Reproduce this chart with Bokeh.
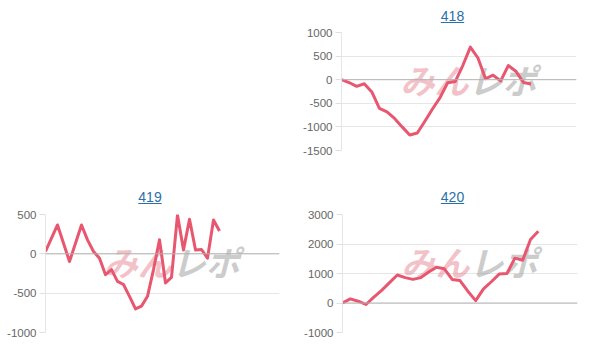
from bokeh.plotting import figure
from bokeh.models import Range1d, FixedTicker, Span, Label, Div, Spacer
from bokeh.layouts import column, row
from bokeh.embed import file_html
from bokeh.resources import INLINE

# ---------------- data ----------------
titles = ["418", "419", "420"]

slots_418 = 32
values_418 = [0, -60, -140, -86, -260, -607, -680, -820, -1000, -1170, -1128, -880,
              -620, -380, -65, -40, 300, 690, 460, 20, 95, -25, 300, 180, -60, -90]
ticks_418 = [-1500, -1000, -500, 0, 500, 1000]

slots_419 = 40
values_419 = [30, 200, 367, 135, -97, 135, 367, 177, 30, -55, -265, -200, -350, -390,
              -540, -700, -665, -540, -200, 180, -370, -300, 494, 50, 440, 50, 55, -55,
              430, 290]
ticks_419 = [-1000, -500, 0, 500]

slots_420 = 31
values_420 = [0, 140, 60, -50, 200, 430, 690, 950, 860, 800, 860, 1050, 1210, 1160,
              800, 760, 400, 80, 480, 720, 980, 1000, 1520, 1450, 2150, 2430]
ticks_420 = [-1000, 0, 1000, 2000, 3000]

LINE = "#e8566f"
FONT = "Liberation Sans"


def title_div(text, width, height, pad_top, pad_left=0):
    html = ('<div style="width:%dpx;text-align:center;font-family:\'Liberation Sans\',Arial;'
            'font-size:14px;line-height:18px;padding-top:%dpx;padding-left:%dpx;">'
            '<span style="color:#2a6fa8;text-decoration:underline;">%s</span></div>'
            % (width - pad_left, pad_top, pad_left, text))
    return Div(text=html, width=width, height=height, margin=0)


def panel(values, slots, ticks, width, height, bl, br, bt, bb):
    ymin, ymax = ticks[0], ticks[-1]
    p = figure(width=width, height=height, output_backend="svg", toolbar_location=None,
               x_range=Range1d(0, slots - 1), y_range=Range1d(ymin, ymax),
               min_border_left=bl, min_border_right=br, min_border_top=bt,
               min_border_bottom=bb, outline_line_color=None)
    p.xaxis.visible = False
    p.xgrid.visible = False
    p.yaxis.ticker = FixedTicker(ticks=ticks)
    p.yaxis.major_label_overrides = {t: str(t) for t in ticks}
    p.yaxis.axis_line_color = "#e6e6e6"
    p.yaxis.major_tick_line_color = "#e0e0e0"
    p.yaxis.major_tick_out = 6
    p.yaxis.major_tick_in = 0
    p.yaxis.minor_tick_line_color = None
    p.yaxis.major_label_standoff = 3
    p.yaxis.major_label_text_font = FONT
    p.yaxis.major_label_text_font_size = "11.5px"
    p.yaxis.major_label_text_color = "#666666"
    p.ygrid.grid_line_color = "#e6e6e6"
    p.ygrid.ticker = FixedTicker(ticks=ticks)
    p.add_layout(Span(location=0, dimension="width", line_color="#b4b4b4", line_width=1))

    # watermark
    cx = (slots - 1) * 0.54
    cy = ymin + (ymax - ymin) * 0.6
    p.add_layout(Label(x=cx, y=cy, text="みん", text_align="right", text_baseline="middle",
                       text_font="Noto Sans CJK JP", text_font_style="bold italic",
                       text_font_size="34px", text_color="#e58592", text_alpha=0.5,
                       level="underlay"))
    p.add_layout(Label(x=cx, y=cy, text="レポ", text_align="left", text_baseline="middle",
                       text_font="Noto Sans CJK JP", text_font_style="bold italic",
                       text_font_size="34px", text_color="#999999", text_alpha=0.5,
                       level="underlay"))

    xs = list(range(len(values)))
    p.line(xs, values, line_color=LINE, line_width=3, line_join="round")
    return p


f418 = panel(values_418, slots_418, ticks_418, 305, 152, 40, 29, 6, 28)
f419 = panel(values_419, slots_419, ticks_419, 300, 149, 45, 21, 6, 25)
f420 = panel(values_420, slots_420, ticks_420, 305, 149, 42, 28, 6, 25)

d418 = title_div(titles[0], 305, 26, 7)
d419 = title_div(titles[1], 300, 30, 10, 12)
d420 = title_div(titles[2], 305, 30, 10)

layout = column(
    row(Spacer(width=300, height=178), column(d418, f418, spacing=0), spacing=0),
    row(column(d419, f419, spacing=0), column(d420, f420, spacing=0), spacing=0),
    spacing=0,
)

open("out.html", "w").write(file_html(layout, INLINE))
